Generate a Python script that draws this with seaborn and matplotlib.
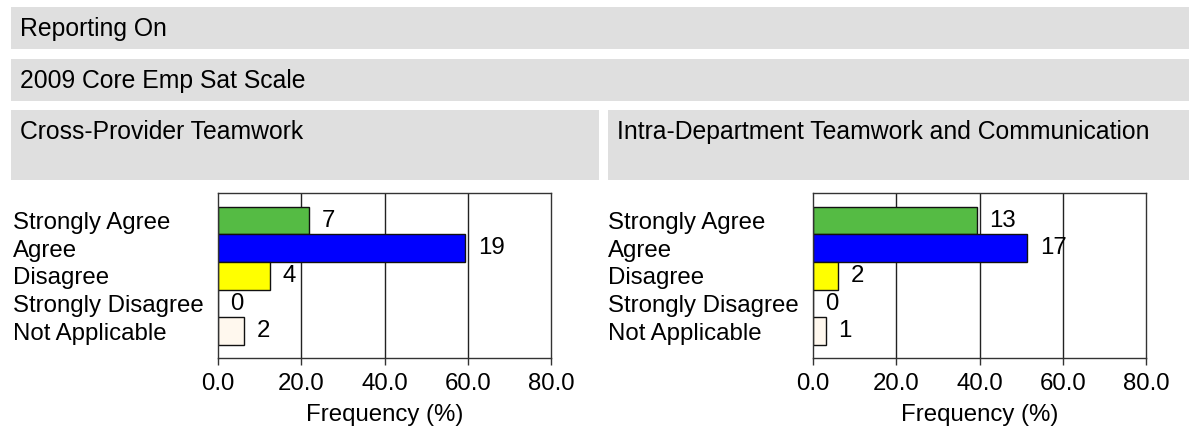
import matplotlib
matplotlib.use("Agg")
import matplotlib.pyplot as plt
from matplotlib.patches import Rectangle
import seaborn as sns
import pandas as pd

# ---- data ----
categories = ["Strongly Agree", "Agree", "Disagree", "Strongly Disagree", "Not Applicable"]
left_title = "Cross-Provider Teamwork"
left_counts = [7, 19, 4, 0, 2]
right_title = "Intra-Department Teamwork and Communication"
right_counts = [13, 17, 2, 0, 1]
header1 = "Reporting On"
header2 = "2009 Core Emp Sat Scale"
x_ticks = [0, 20, 40, 60, 80]
x_label = "Frequency (%)"
bar_colors = ["#55bb44", "#0000ff", "#ffff00", "#ffffff", "#fff8ee"]

sns.set_theme(style="white")
plt.rcParams["font.family"] = ["Liberation Sans", "DejaVu Sans"]
FS = 17.3
HFS = 17.8

W, H = 1190, 430
fig = plt.figure(figsize=(W / 100, H / 100), dpi=100)


def px_rect(x0, y0, x1, y1):
    return [x0 / W, 1 - y1 / H, (x1 - x0) / W, (y1 - y0) / H]


def box(x0, y0, x1, y1, text, ty):
    fig.patches.append(Rectangle((x0 / W, 1 - y1 / H), (x1 - x0) / W, (y1 - y0) / H,
                                 transform=fig.transFigure, facecolor="#dfdfdf",
                                 edgecolor="none", zorder=0))
    fig.text((x0 + 9) / W, 1 - ty / H, text, fontsize=HFS, ha="left", va="center",
             color="black")


box(11, 7, 1189, 49, header1, 29)
box(11, 59, 1189, 101, header2, 81)
box(11, 110, 599, 180, left_title, 132)
box(608, 110, 1189, 180, right_title, 132)

palette = dict(zip(categories, bar_colors))


def panel(ax_left_px, counts):
    ax = fig.add_axes(px_rect(ax_left_px, 193, ax_left_px + 333, 358))
    total = sum(counts)
    df = pd.DataFrame({"cat": categories, "count": counts,
                       "pct": [c / total * 100 for c in counts]})
    sns.barplot(data=df, x="pct", y="cat", hue="cat", palette=palette, order=categories,
                hue_order=categories, orient="h", width=1.0, legend=False,
                edgecolor="#111111", linewidth=1.0, saturation=1, ax=ax, zorder=2)
    ax.set_xlim(0, 80)
    ax.set_ylim(4.97, -1.0)
    ax.set_xticks(x_ticks)
    ax.set_xticklabels([f"{t:.1f}" for t in x_ticks], fontsize=FS, color="black")
    ax.set_xlabel(x_label, fontsize=FS, labelpad=6, color="black")
    ax.set_ylabel("")
    for g in x_ticks[1:-1]:
        ax.axvline(g, color="#222222", lw=1.0, zorder=1)
    for s in ax.spines.values():
        s.set_visible(True)
        s.set_color("#333333")
        s.set_linewidth(1.0)
    ax.tick_params(axis="x", direction="out", length=5, width=1.0, color="#333333",
                   pad=6, bottom=True)
    ax.tick_params(axis="y", length=0, pad=205 * 0.72)
    ax.set_yticks(range(len(categories)))
    ax.set_yticklabels(categories, fontsize=FS, ha="left", color="black")
    for i, (p, c) in enumerate(zip(df["pct"], df["count"])):
        ax.annotate(str(c), (p, i), xytext=(9, 0), textcoords="offset points",
                    ha="left", va="center", fontsize=FS, color="black", zorder=3)
    ax.set_facecolor("white")
    return ax


panel(218, left_counts)
panel(813, right_counts)

fig.savefig("out.png", dpi=100)
